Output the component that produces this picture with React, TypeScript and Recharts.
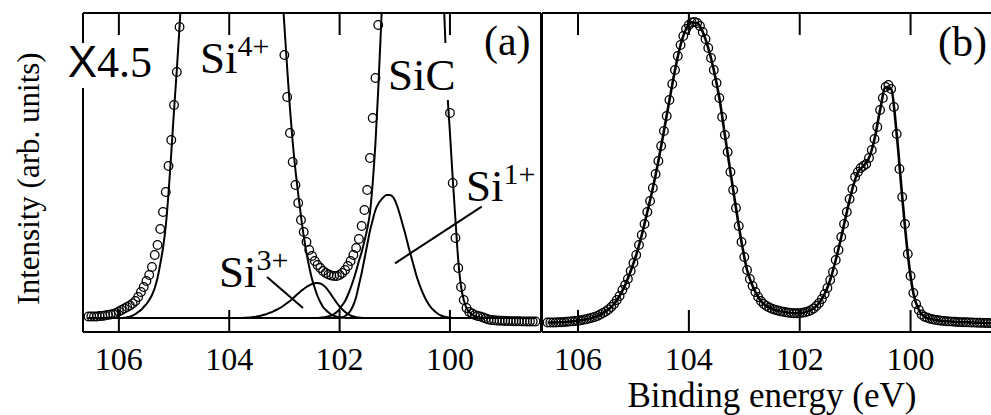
import React from 'react'
import { ComposedChart, Line, XAxis, YAxis, ReferenceLine, ReferenceDot } from 'recharts'

// binding energy grid (eV), shared by both spectra
const energy = [
  106.55, 106.5, 106.45, 106.4, 106.35, 106.3, 106.25, 106.2, 106.15, 106.1,
  106.05, 106, 105.95, 105.9, 105.85, 105.8, 105.75, 105.7, 105.65, 105.6,
  105.55, 105.5, 105.45, 105.4, 105.35, 105.3, 105.25, 105.2, 105.15, 105.1,
  105.05, 105, 104.95, 104.9, 104.85, 104.8, 104.75, 104.7, 104.65, 104.6,
  104.55, 104.5, 104.45, 104.4, 104.35, 104.3, 104.25, 104.2, 104.15, 104.1,
  104.05, 104, 103.95, 103.9, 103.85, 103.8, 103.75, 103.7, 103.65, 103.6,
  103.55, 103.5, 103.45, 103.4, 103.35, 103.3, 103.25, 103.2, 103.15, 103.1,
  103.05, 103, 102.95, 102.9, 102.85, 102.8, 102.75, 102.7, 102.65, 102.6,
  102.55, 102.5, 102.45, 102.4, 102.35, 102.3, 102.25, 102.2, 102.15, 102.1,
  102.05, 102, 101.95, 101.9, 101.85, 101.8, 101.75, 101.7, 101.65, 101.6,
  101.55, 101.5, 101.45, 101.4, 101.35, 101.3, 101.25, 101.2, 101.15, 101.1,
  101.05, 101, 100.95, 100.9, 100.85, 100.8, 100.75, 100.7, 100.65, 100.6,
  100.55, 100.5, 100.45, 100.4, 100.35, 100.3, 100.25, 100.2, 100.15, 100.1,
  100.05, 100, 99.95, 99.9, 99.85, 99.8, 99.75, 99.7, 99.65, 99.6,
  99.55, 99.5, 99.45, 99.4, 99.35, 99.3, 99.25, 99.2, 99.15, 99.1,
  99.05, 99, 98.95, 98.9, 98.85, 98.8, 98.75, 98.7, 98.65, 98.6,
  98.55, 98.5, 98.45,
]

// (a) measured points, x4.5
const countsA = [
  1.5, 1.5, 1.5, 1.5, 2, 2, 2.5, 3, 3.5, 4,
  5, 6.5, 8, 9.5, 11, 12.5, 14.5, 17, 21, 26,
  31, 37, 43, 51, 63, 73, 89, 106, 126, 152,
  178, 213, 246, 291, 345, 400, 460, 525, 595, 665,
  735, 805, 870, 930, 985, 1035, 1075, 1110, 1135, 1155,
  1165, 1170, 1168, 1158, 1140, 1112, 1078, 1035, 985, 930,
  870, 805, 740, 675, 610, 550, 495, 445, 400, 360,
  325, 263, 221, 185, 156, 133, 115, 98, 86, 76,
  68, 62, 57, 53, 50, 47, 45, 43.5, 42.5, 42,
  42, 43, 45, 48, 52, 57, 63, 70, 79, 92,
  108, 128, 160, 200, 240, 293, 350, 420, 500, 590,
  690, 790, 890, 990, 1080, 1160, 1230, 1290, 1330, 1350,
  1350, 1320, 1260, 1170, 1050, 900, 740, 580, 440, 330,
  240, 205, 135, 80, 50, 31, 18, 10, 6, 4.5,
  3, 2, 1.5, 0.5, -0.5, -1.5, -2, -2.3, -2.5, -2.7,
  -2.8, -3, -3, -3.1, -3.2, -3.3, -3.3, -3.4, -3.4, -3.5,
  -3.5, -3.5, -3.5,
]

// (a) fitted components
const si4 = [
  0, 0, 0, 0, 0, 0, 0, 0, 0, 0,
  0, 0, 0, 0.3, 0.8, 1.3, 2.5, 4, 6, 8,
  11, 14, 18, 23, 30, 40, 54, 70, 92, 125,
  165, 208, 248, 292, 340, 395, 455, 520, 590, 660,
  730, 800, 865, 925, 980, 1030, 1070, 1105, 1130, 1150,
  1160, 1165, 1163, 1153, 1135, 1108, 1073, 1030, 980, 925,
  865, 800, 735, 670, 610, 565, 520, 470, 420, 375,
  335, 292, 250, 210, 176, 148, 124, 102, 82, 65,
  51, 39, 30, 22, 16, 11, 8, 5.5, 3.5, 2,
  1.3, 0.8, 0.4, 0.2, 0, 0, 0, 0, 0, 0,
  0, 0, 0, 0, 0, 0, 0, 0, 0, 0,
  0, 0, 0, 0, 0, 0, 0, 0, 0, 0,
  0, 0, 0, 0, 0, 0, 0, 0, 0, 0,
  0, 0, 0, 0, 0, 0, 0, 0, 0, 0,
  0, 0, 0, 0, 0, 0, 0, 0, 0, 0,
  0, 0, 0, 0, 0, 0, 0, 0, 0, 0,
  0, 0, 0,
]

const si3 = [
  0, 0, 0, 0, 0, 0, 0, 0, 0, 0,
  0, 0, 0, 0, 0, 0, 0, 0, 0, 0,
  0, 0, 0, 0, 0, 0, 0, 0, 0, 0,
  0, 0, 0, 0, 0, 0, 0, 0, 0, 0,
  0, 0, 0, 0, 0, 0, 0, 0, 0, 0,
  0, 0, 0, 0, 0, 0, 0.1, 0.2, 0.4, 0.7,
  1, 1.5, 2, 2.7, 3.5, 4.5, 5.5, 6.7, 8, 9.5,
  11, 13, 15, 17, 19.5, 22, 24.5, 27, 29, 31,
  32.5, 34, 34.8, 35, 34.5, 33, 30.5, 27, 23, 19,
  15, 11.5, 8.5, 6, 4, 2.5, 1.5, 0.8, 0.4, 0.2,
  0, 0, 0, 0, 0, 0, 0, 0, 0, 0,
  0, 0, 0, 0, 0, 0, 0, 0, 0, 0,
  0, 0, 0, 0, 0, 0, 0, 0, 0, 0,
  0, 0, 0, 0, 0, 0, 0, 0, 0, 0,
  0, 0, 0, 0, 0, 0, 0, 0, 0, 0,
  0, 0, 0, 0, 0, 0, 0, 0, 0, 0,
  0, 0, 0,
]

const si1 = [
  0, 0, 0, 0, 0, 0, 0, 0, 0, 0,
  0, 0, 0, 0, 0, 0, 0, 0, 0, 0,
  0, 0, 0, 0, 0, 0, 0, 0, 0, 0,
  0, 0, 0, 0, 0, 0, 0, 0, 0, 0,
  0, 0, 0, 0, 0, 0, 0, 0, 0, 0,
  0, 0, 0, 0, 0, 0, 0, 0, 0, 0,
  0, 0, 0, 0, 0, 0, 0, 0, 0, 0,
  0, 0, 0, 0, 0, 0, 0, 0, 0, 0,
  0, 0, 0, 0, 0, 0, 0, 0, 0, 0,
  0, 0, 0.7, 2, 4, 7.5, 13, 21, 33, 45,
  59, 73, 87, 98, 108, 114, 118, 121, 123, 123,
  122, 118, 111, 102, 92, 82, 71, 61, 51, 41,
  33, 26, 20, 15, 11, 8, 5.5, 3.5, 2.2, 1.3,
  0.7, 0.3, 0, 0, 0, 0, 0, 0, 0, 0,
  0, 0, 0, 0, 0, 0, 0, 0, 0, 0,
  0, 0, 0, 0, 0, 0, 0, 0, 0, 0,
  0, 0, 0,
]

const sic = [
  0, 0, 0, 0, 0, 0, 0, 0, 0, 0,
  0, 0, 0, 0, 0, 0, 0, 0, 0, 0,
  0, 0, 0, 0, 0, 0, 0, 0, 0, 0,
  0, 0, 0, 0, 0, 0, 0, 0, 0, 0,
  0, 0, 0, 0, 0, 0, 0, 0, 0, 0,
  0, 0, 0, 0, 0, 0, 0, 0, 0, 0,
  0, 0, 0, 0, 0, 0, 0, 0, 0, 0,
  0, 0, 0, 0, 0, 0, 0, 0, 0, 0,
  0, 0, 0, 0, 0.3, 0.6, 1, 1.7, 2.5, 4,
  6, 9, 13, 17, 23, 30, 38, 47, 57, 66,
  77, 89, 105, 135, 175, 228, 290, 355, 425, 505,
  590, 680, 770, 860, 940, 1010, 1070, 1110, 1130, 1135,
  1120, 1085, 1030, 950, 850, 740, 620, 500, 390, 300,
  230, 185, 140, 98, 58, 32, 18, 10, 6, 3.5,
  2, 1.2, 0.6, 0.3, 0, 0, 0, 0, 0, 0,
  0, 0, 0, 0, 0, 0, 0, 0, 0, 0,
  0, 0, 0,
]

// (b) measured points
const countsB = [
  9.5, 9.5, 9.5, 9.5, 9.7, 9.8, 10, 10.2, 10.5, 10.8,
  11, 11.3, 11.7, 12.2, 12.8, 13.5, 14.3, 15, 16, 17.5,
  19, 20.5, 22.5, 25, 28, 32, 36, 42, 47, 53,
  61, 69, 77, 87, 97, 108, 120, 131, 144, 158,
  171, 186, 201, 216, 232, 248, 262, 276, 287, 296,
  303, 307, 309.5, 310, 309, 306, 300, 293, 284, 274,
  262, 249, 234, 215, 197, 180, 160, 142, 124, 106,
  90, 75, 62, 53, 46, 40, 35, 31, 28, 26,
  24.5, 23.3, 22.3, 21.5, 20.8, 20.2, 19.7, 19.3, 19, 18.8,
  18.8, 18.9, 19.2, 19.8, 20.6, 21.8, 23.5, 26, 29, 33,
  38, 44, 52, 60, 72, 82, 95, 108, 120, 133,
  143, 155, 160, 164, 166, 168, 174, 182, 193, 205,
  222, 234, 245, 247, 243, 225, 198, 163, 135, 108,
  78, 56, 39, 28, 22, 17.5, 15.3, 14.2, 13.3, 12.7,
  12.1, 11.7, 11.3, 11, 10.8, 10.6, 10.4, 10.2, 10, 9.9,
  9.8, 9.7, 9.6, 9.5, 9.4, 9.3, 9.2, 9.1, 9, 9,
  8.9, 8.9, 8.8,
]

// (b) fit curve
const fitEnergy = [
  106.55, 106.45, 106.35, 106.25, 106.15, 106.05, 105.95, 105.85, 105.75, 105.65,
  105.55, 105.45, 105.35, 105.25, 105.15, 105.05, 104.95, 104.85, 104.75, 104.65,
  104.55, 104.45, 104.35, 104.25, 104.15, 104.05, 103.95, 103.85, 103.75, 103.65,
  103.55, 103.45, 103.35, 103.25, 103.15, 103.05, 102.95, 102.85, 102.75, 102.65,
  102.55, 102.45, 102.35, 102.25, 102.15, 102.05, 101.95, 101.85, 101.75, 101.65,
  101.55, 101.45, 101.35, 101.25, 101.15, 101.05, 100.95, 100.85, 100.75, 100.65,
  100.55, 100.45, 100.35, 100.25, 100.15, 100.05, 99.95, 99.85, 99.75, 99.65,
  99.55, 99.45, 99.35, 99.25, 99.15, 99.05, 98.95, 98.85, 98.75, 98.65,
  98.55, 98.45,
]
const fitB = [
  9.5, 9.5, 9.7, 10, 10.5, 11, 11.7, 12.8, 14.3, 16,
  19, 22.5, 28, 36, 47, 61, 77, 97, 120, 144,
  171, 201, 232, 262, 287, 303, 309.5, 309, 300, 284,
  262, 234, 197, 160, 124, 90, 62, 46, 35, 28,
  24.5, 22.3, 20.8, 19.7, 19, 18.8, 19.2, 20.6, 23.5, 29,
  38, 52, 72, 95, 120, 143, 160, 166, 174, 193,
  222, 245, 243, 198, 135, 78, 39, 22, 15.3, 13.3,
  12.1, 11.3, 10.8, 10.4, 10, 9.8, 9.6, 9.4, 9.2, 9,
  8.9, 8.8,
]

const ticks = [106, 104, 102, 100]
const xDomain: [number, number] = [98.35, 106.65]

const SERIF = '"Liberation Serif", "Times New Roman", serif'
const SANS = '"Liberation Sans", Arial, sans-serif'
const frame = { stroke: '#000', strokeWidth: 2 }

const rowsA = energy.map((e, i) => ({
  e,
  counts: countsA[i],
  si4: si4[i],
  si3: si3[i],
  si1: si1[i],
  sic: sic[i],
}))
const rowsB = energy.map((e, i) => ({ e, counts: countsB[i] }))
const fitRows = fitEnergy.map((e, i) => ({ e, fit: fitB[i] }))

const circle = { r: 4.3, fill: 'none', stroke: '#000', strokeWidth: 1.3 }

function BottomTick(props: any) {
  const { x, y, payload } = props
  return (
    <g>
      <line x1={x} x2={x} y1={y} y2={y - 22} stroke="#000" strokeWidth={2} />
      <text x={x} y={y + 38} textAnchor="middle" fontFamily={SERIF} fontSize={32} fill="#000">
        {payload.value}
      </text>
    </g>
  )
}

function TopTick(props: any) {
  const { x, y } = props
  return <line x1={x} x2={x} y1={y} y2={y + 22} stroke="#000" strokeWidth={2} />
}

function YLabel(props: any) {
  const vb = props.viewBox
  const x = vb.x - 43
  const y = vb.y + vb.height / 2 + 6
  return (
    <text x={x} y={y} transform={`rotate(-90, ${x}, ${y})`} textAnchor="middle" fontFamily={SERIF} fontSize={31} fill="#000">
      Intensity (arb. units)
    </text>
  )
}

function XLabel(props: any) {
  const vb = props.viewBox
  return (
    <text x={vb.x + vb.width / 2} y={vb.y + 75} textAnchor="middle" fontFamily={SERIF} fontSize={35} fill="#000">
      Binding energy (eV)
    </text>
  )
}

// superscripted species label, drawn at a data point
const species = (main: string, sup: string, box?: [number, number, number, number]) => (p: any) => (
  <g>
    {box && <rect x={p.cx + box[0]} y={p.cy + box[1]} width={box[2]} height={box[3]} fill="#fff" />}
    <text x={p.cx} y={p.cy} fontFamily={SERIF} fontSize={45} fill="#000">
      {main}
      {sup && (
        <tspan fontSize={30} dy={-17}>
          {sup}
        </tspan>
      )}
    </text>
  </g>
)

const scaleLabel = (p: any) => (
  <g>
    <rect x={p.cx - 20} y={p.cy - 34} width={92} height={45} fill="#fff" />
    <text x={p.cx - 18} y={p.cy} fontSize={44} fill="#000">
      <tspan fontFamily={SANS}>X</tspan>
      <tspan fontFamily={SERIF}>4.5</tspan>
    </text>
  </g>
)

const panelLabel = (s: string) => (p: any) => (
  <text x={p.cx} y={p.cy} fontFamily={SERIF} fontSize={42} fill="#000">
    {s}
  </text>
)

function PanelA() {
  return (
    <ComposedChart width={560} height={415} data={rowsA} margin={{ top: 12, right: 19, bottom: 23, left: 82 }}>
      <XAxis
        dataKey="e"
        type="number"
        domain={xDomain}
        reversed
        allowDataOverflow
        ticks={ticks}
        interval={0}
        tickSize={0}
        tickMargin={0}
        tickLine={false}
        tick={BottomTick}
        axisLine={frame}
        height={60}
      />
      <XAxis
        xAxisId="top"
        orientation="top"
        dataKey="e"
        type="number"
        domain={xDomain}
        reversed
        allowDataOverflow
        ticks={ticks}
        interval={0}
        tickSize={0}
        tickMargin={0}
        tickLine={false}
        tick={TopTick}
        axisLine={frame}
        height={1}
      />
      <YAxis
        type="number"
        domain={[-14, 305]}
        allowDataOverflow
        tick={false}
        tickLine={false}
        axisLine={frame}
        width={1}
        label={{ content: YLabel }}
      />
      <ReferenceLine x={98.35} stroke="#000" strokeWidth={2} />
      <Line dataKey="si4" type="monotone" stroke="#000" strokeWidth={2} dot={false} activeDot={false} isAnimationActive={false} />
      <Line dataKey="si3" type="monotone" stroke="#000" strokeWidth={2} dot={false} activeDot={false} isAnimationActive={false} />
      <Line dataKey="si1" type="monotone" stroke="#000" strokeWidth={2} dot={false} activeDot={false} isAnimationActive={false} />
      <Line dataKey="sic" type="monotone" stroke="#000" strokeWidth={2} dot={false} activeDot={false} isAnimationActive={false} />
      <Line dataKey="counts" stroke="none" dot={circle} activeDot={false} isAnimationActive={false} />
      <ReferenceLine segment={[{ x: 103.315, y: 41 }, { x: 102.663, y: 10 }]} stroke="#000" strokeWidth={2} />
      <ReferenceLine segment={[{ x: 100.996, y: 54.7 }, { x: 99.425, y: 111.3 }]} stroke="#000" strokeWidth={2} />
      <ReferenceDot x={106.6} y={241} r={0} shape={scaleLabel} />
      <ReferenceDot x={104.53} y={245} r={0} shape={species('Si', '4+')} />
      <ReferenceDot x={101.123} y={228} r={0} shape={species('SiC', '', [-2, -47, 72, 57])} />
      <ReferenceDot x={99.709} y={117} r={0} shape={species('Si', '1+')} />
      <ReferenceDot x={104.185} y={31} r={0} shape={species('Si', '3+')} />
      <ReferenceDot x={99.383} y={263} r={0} shape={panelLabel('(a)')} />
    </ComposedChart>
  )
}

function PanelB() {
  return (
    <ComposedChart width={472} height={415} data={rowsB} margin={{ top: 12, right: 0, bottom: 23, left: 11 }}>
      <XAxis
        dataKey="e"
        type="number"
        domain={xDomain}
        reversed
        allowDataOverflow
        ticks={ticks}
        interval={0}
        tickSize={0}
        tickMargin={0}
        tickLine={false}
        tick={BottomTick}
        axisLine={frame}
        height={60}
        label={{ content: XLabel }}
      />
      <XAxis
        xAxisId="top"
        orientation="top"
        dataKey="e"
        type="number"
        domain={xDomain}
        reversed
        allowDataOverflow
        ticks={ticks}
        interval={0}
        tickSize={0}
        tickMargin={0}
        tickLine={false}
        tick={TopTick}
        axisLine={frame}
        height={1}
      />
      <YAxis type="number" domain={[0, 319]} allowDataOverflow tick={false} tickLine={false} axisLine={frame} width={1} />
      <Line data={fitRows} dataKey="fit" type="monotone" stroke="#000" strokeWidth={2.6} dot={false} activeDot={false} isAnimationActive={false} />
      <Line dataKey="counts" stroke="none" dot={circle} activeDot={false} isAnimationActive={false} />
      <ReferenceDot x={99.505} y={276} r={0} shape={panelLabel('(b)')} />
    </ComposedChart>
  )
}

export default function App() {
  return (
    <div style={{ position: 'fixed', left: 0, top: 0, width: 991, height: 415, overflow: 'hidden', background: '#fff' }}>
      <div style={{ position: 'absolute', left: 0, top: 0 }}>
        <PanelA />
      </div>
      <div style={{ position: 'absolute', left: 530, top: 0 }}>
        <PanelB />
      </div>
    </div>
  )
}
